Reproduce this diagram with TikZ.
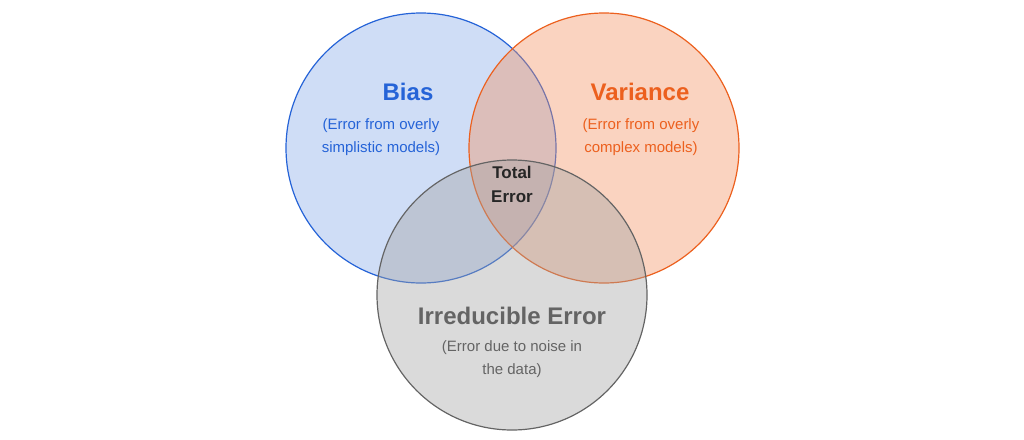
\documentclass[tikz,border=0pt]{standalone}
\usepackage{fontspec}
\setmainfont{Liberation Sans}
\definecolor{biasblue}{RGB}{37,99,215}
\definecolor{varorange}{RGB}{236,96,30}
\definecolor{irrgray}{RGB}{100,100,100}
\begin{document}
\begin{tikzpicture}[x=1pt,y=-1pt,
  ring/.style={line width=1.2pt, fill opacity=0.4},
  title/.style={font=\fontsize{24}{28}\selectfont\bfseries, align=center},
  sub/.style={font=\fontsize{15}{23}\selectfont, align=center}]
\useasboundingbox (0,0) rectangle (1024,439);

% circles
\draw [ring, draw=biasblue, fill=biasblue!55] (421,148) circle (135);
\draw [ring, draw=varorange, fill=varorange!70] (604,148) circle (135);
\draw [ring, draw=irrgray, fill=irrgray!60] (512,295) circle (135);

% Text Node
\node (bias) [title, text=biasblue] at (408,92) {Bias};
\node (biassub) [sub, text=biasblue] at (381,137) {(Error from overly\\simplistic models)};
\node (var) [title, text=varorange] at (640,92) {Variance};
\node (varsub) [sub, text=varorange] at (641,137) {(Error from overly\\complex models)};
\node (total) [font=\fontsize{17}{24}\selectfont\bfseries, align=center, text=black!85] at (512,184) {Total\\Error};
\node (irr) [title, text=irrgray] at (512,316) {Irreducible Error};
\node (irrsub) [sub, text=irrgray] at (512,359) {(Error due to noise in\\the data)};
\end{tikzpicture}
\end{document}
